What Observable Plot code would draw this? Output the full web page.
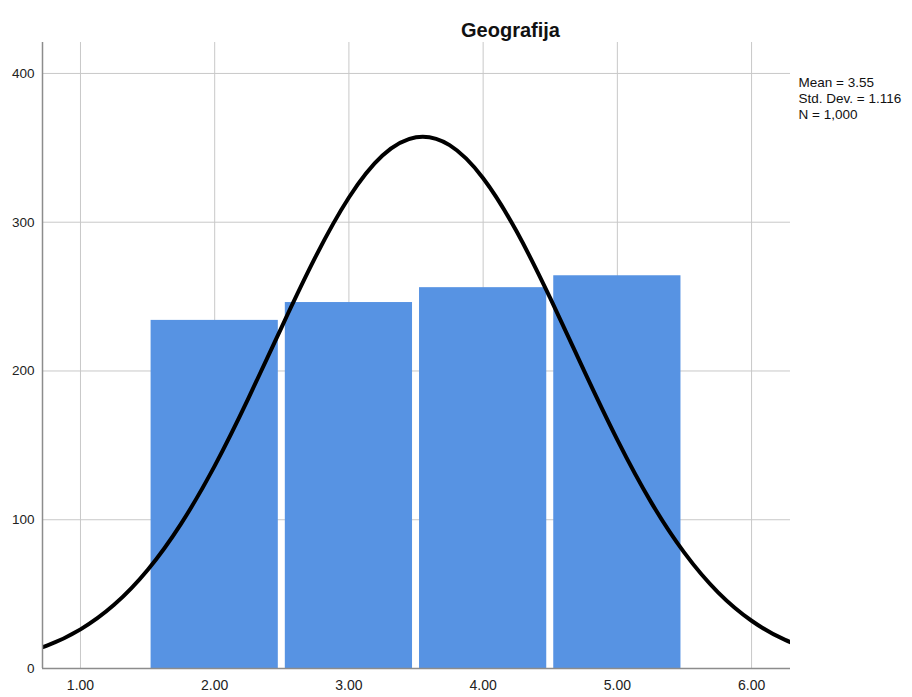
<!DOCTYPE html>
<html>
<head>
<meta charset="utf-8">
<script src="https://cdn.jsdelivr.net/npm/d3@7"></script>
<script src="https://cdn.jsdelivr.net/npm/@observablehq/plot@0.6"></script>
<style>
  html, body { margin: 0; padding: 0; background: #fff; }
  #chart { width: 912px; height: 697px; }
</style>
</head>
<body>
<div id="chart"></div>
<script>
const title = "Geografija";
const binStarts = [1.5, 2.5, 3.5, 4.5];
const binEnds = [2.5, 3.5, 4.5, 5.5];
const counts = [234, 246, 256, 264];
const xTicks = [1, 2, 3, 4, 5, 6];
const yTicks = [0, 100, 200, 300, 400];
const statsLines = ["Mean = 3.55", "Std. Dev. = 1.116", "N = 1,000"];
// normal curve (x, frequency)
const curveX = [0.5, 0.75, 1.0, 1.25, 1.5, 1.75, 2.0, 2.25, 2.5, 2.75, 3.0, 3.25, 3.5, 3.75, 4.0, 4.25, 4.5, 4.75, 5.0, 5.25, 5.5, 5.75, 6.0, 6.25, 6.5];
const curveY = [8.5, 15.4, 26.3, 42.8, 66.2, 97.4, 136.2, 181.4, 229.7, 276.5, 316.6, 344.8, 357.1, 351.8, 329.6, 293.7, 248.9, 200.6, 153.7, 112.0, 77.7, 51.2, 32.1, 19.2, 10.9];

const bars = counts.map((c, i) => ({x1: binStarts[i], x2: binEnds[i], y: c}));
const curve = curveX.map((x, i) => ({x, y: curveY[i]}));

const plot = Plot.plot({
  width: 912,
  height: 697,
  marginTop: 42,
  marginLeft: 42,
  marginRight: 122,
  marginBottom: 29,
  style: {fontFamily: "'Liberation Sans', Arial, sans-serif", fontSize: "13px", color: "#222", background: "#fff"},
  x: {domain: [0.717, 6.29], label: null},
  y: {domain: [0, 420.8], label: null},
  marks: [
    Plot.gridX(xTicks, {stroke: "#c8c8c8", strokeOpacity: 1, strokeWidth: 1}),
    Plot.gridY(yTicks, {stroke: "#c8c8c8", strokeOpacity: 1, strokeWidth: 1}),
    Plot.rectY(bars, {x1: "x1", x2: "x2", y: "y", fill: "#5793e3", insetLeft: 3.5, insetRight: 3.5}),
    Plot.line(curve, {x: "x", y: "y", stroke: "#000", strokeWidth: 4, curve: "natural", clip: true}),
    Plot.axisX(xTicks, {tickFormat: d3.format(".2f"), tickSize: 0, tickPadding: 12, label: null, fontSize: 14, fill: "#222"}),
    Plot.axisY(yTicks, {tickSize: 0, tickPadding: 8, label: null, fontSize: 13.5, fill: "#222"}),
    Plot.ruleY([0], {stroke: "#8c8c8c", strokeWidth: 1.5}),
    Plot.ruleX([0.717], {stroke: "#8c8c8c", strokeWidth: 1.5}),
    Plot.text([title], {frameAnchor: "top", dx: 94, dy: -20, fontSize: 20, fontWeight: "bold", fill: "#111"}),
    Plot.text([statsLines.join("\n")], {frameAnchor: "top-right", textAnchor: "start", lineAnchor: "top", dx: 8, dy: 33, fontSize: 13.5, lineHeight: 1.18, fill: "#111"})
  ]
});
document.getElementById("chart").append(plot);
</script>
</body>
</html>
